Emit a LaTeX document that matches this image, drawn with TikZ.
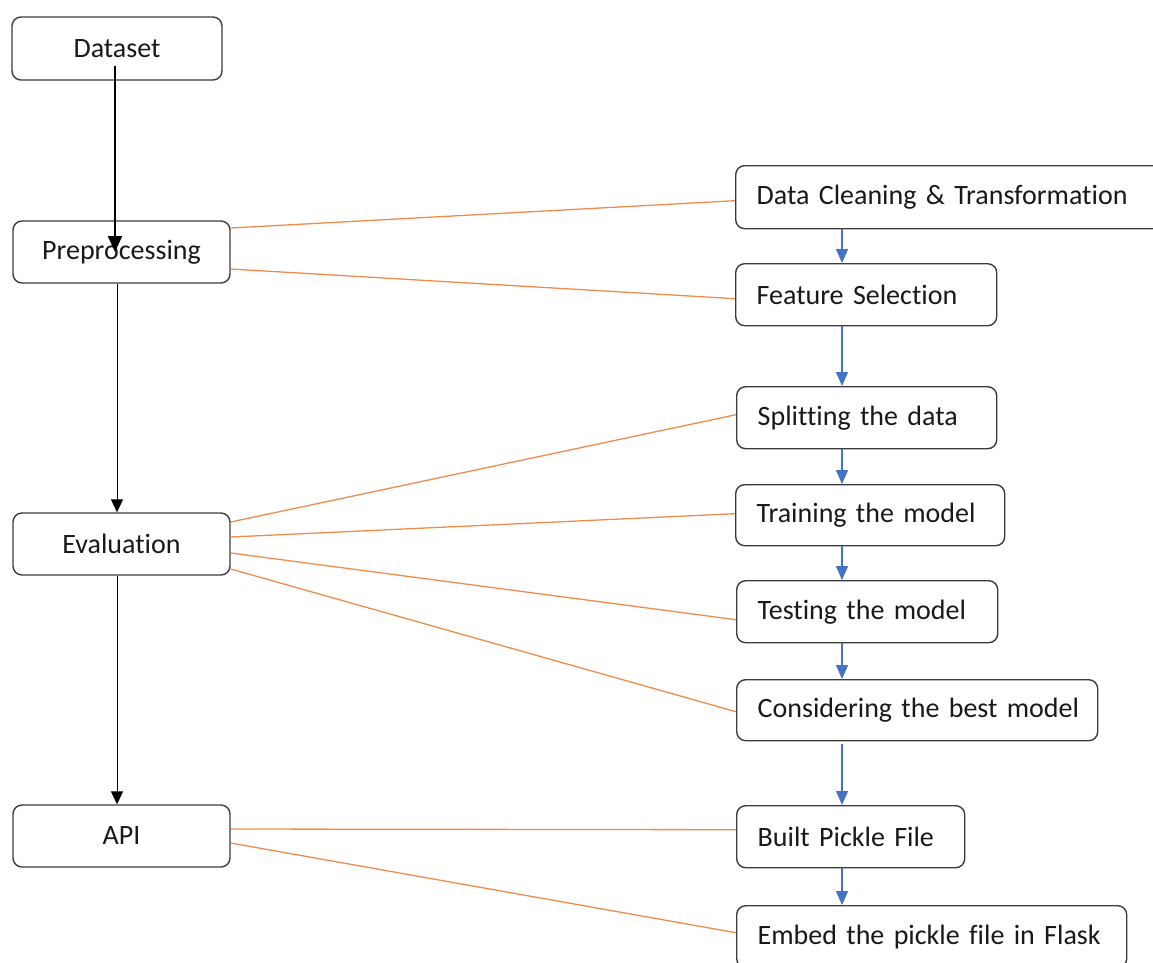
\documentclass[tikz,border=0pt]{standalone}
\usepackage{fontspec}
\setmainfont{Carlito}[Ligatures={NoCommon}]
\usetikzlibrary{arrows.meta}
\definecolor{boxline}{RGB}{60,60,60}
\definecolor{orangeline}{RGB}{240,140,75}
\definecolor{blueline}{RGB}{68,114,196}
\definecolor{txt}{RGB}{25,25,25}
\hfuzz=100pt
\tikzset{
  box/.style={draw=boxline, line width=1.4pt, rounded corners=9pt, fill=white,
    text=txt, font=\fontsize{28}{32}\selectfont, inner sep=0pt},
  leftbox/.style={box, minimum width=217pt, minimum height=62pt, align=center},
  rightbox/.style={box, anchor=north west, minimum height=62pt, inner xsep=21pt,
    align=left},
  blk/.style={draw=black, line width=1pt, -{Triangle[width=12pt,length=13pt]}},
  blkthick/.style={draw=black, line width=2pt, -{Triangle[width=14pt,length=16pt]}},
  blu/.style={draw=blueline, line width=1.3pt, -{Triangle[width=12pt,length=14pt]}},
  org/.style={draw=orangeline, line width=1.3pt},
}
\begin{document}
\begin{tikzpicture}[x=1pt,y=-1pt]
\useasboundingbox (0,0) rectangle (1153,962);
\clip (0,0) rectangle (1153,962);
% left column
\node[leftbox, minimum width=210pt, minimum height=63pt] (ds) at (117,48.5) {Dataset};
\node[leftbox] (pre) at (121.5,252) {Preprocessing};
\node[leftbox] (ev) at (121.5,544) {Evaluation};
\node[leftbox] (api) at (121.5,836) {API};
% right column
\node[rightbox, minimum height=63pt, text width=440pt] (dc) at (735,165) {\mbox{Data Cleaning \& Transformation}};
\node[rightbox, text width=219pt] (fs) at (735,263) {\mbox{Feature Selection}};
\node[rightbox, text width=218pt] (sp) at (736,386) {\mbox{Splitting the data}};
\node[rightbox, minimum height=61pt, text width=227pt] (tr) at (735,484) {\mbox{Training the model}};
\node[rightbox, text width=219pt] (te) at (736,580) {\mbox{Testing the model}};
\node[rightbox, minimum height=61pt, text width=319pt] (co) at (736,679) {\mbox{Considering the best model}};
\node[rightbox, text width=186pt] (bp) at (736,805) {\mbox{Built Pickle File}};
\node[rightbox, text width=348pt] (em) at (736,905) {\mbox{Embed the pickle file in Flask}};
% orange links
\draw[org] ([yshift=24pt]pre.east) -- ([yshift=-3.5pt]dc.west);
\draw[org] ([yshift=-17pt]pre.east) -- ([yshift=-4pt]fs.west);
\draw[org] ([yshift=22pt]ev.east) -- ([yshift=3pt]sp.west);
\draw[org] ([yshift=7pt]ev.east) -- ([yshift=1.5pt]tr.west);
\draw[org] ([yshift=-9pt]ev.east) -- ([yshift=-8pt]te.west);
\draw[org] ([yshift=-25pt]ev.east) -- ([yshift=-1.5pt]co.west);
\draw[org] ([yshift=7pt]api.east) -- ([yshift=7pt]bp.west);
\draw[org] ([yshift=-7pt]api.east) -- ([yshift=4pt]em.west);
% blue flow
\draw[blu] (dc.south west -| 842,0) -- (fs.north west -| 842,0);
\draw[blu] (fs.south west -| 842,0) -- (sp.north west -| 842,0);
\draw[blu] (sp.south west -| 842,0) -- (tr.north west -| 842,0);
\draw[blu] (tr.south west -| 842,0) -- (te.north west -| 842,0);
\draw[blu] (te.south west -| 842,0) -- (co.north west -| 842,0);
\draw[blu] ([yshift=-3pt]co.south west -| 842,0) -- (bp.north west -| 842,0);
\draw[blu] (bp.south west -| 842,0) -- (em.north west -| 842,0);
% black flow
\coordinate (dsstart) at ([yshift=-17pt]ds.center -| 115,0);
\coordinate (preend) at (pre.center -| 115,0);
\draw[blkthick] (dsstart) -- (preend);
\draw[blk] (pre.south -| 117,0) -- (ev.north -| 117,0);
\draw[blk] (ev.south -| 117,0) -- (api.north -| 117,0);
\end{tikzpicture}
\end{document}
